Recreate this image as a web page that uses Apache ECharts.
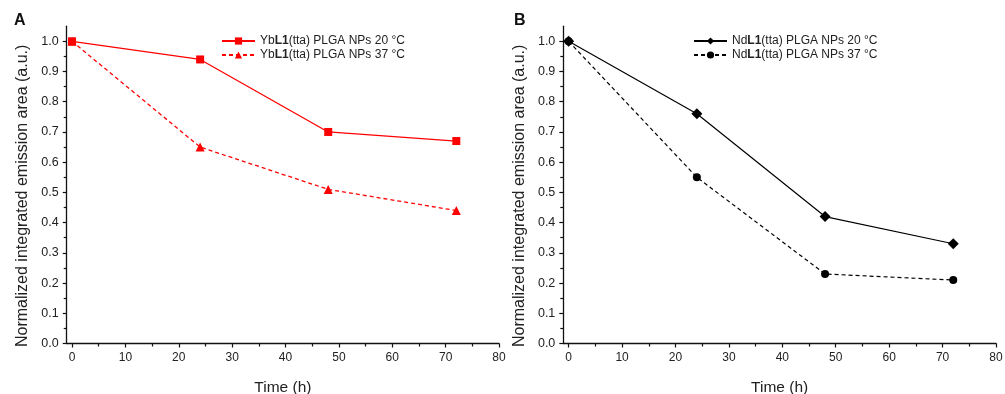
<!DOCTYPE html>
<html>
<head>
<meta charset="utf-8">
<script src="https://cdn.jsdelivr.net/npm/echarts@6/dist/echarts.min.js"></script>
<style>
html,body{margin:0;padding:0;background:#fff;}
#c{width:1005px;height:394px;}
</style>
</head>
<body>
<div id="c"></div>
<script>
// ---- data ----
var times = [0, 24, 48, 72];
var yb20 = [1.00, 0.94, 0.70, 0.67];
var yb37 = [1.00, 0.65, 0.51, 0.44];
var nd20 = [1.00, 0.76, 0.42, 0.33];
var nd37 = [1.00, 0.55, 0.23, 0.21];
var xTicks = [0, 10, 20, 30, 40, 50, 60, 70, 80];
var xMinorTicks = [5, 15, 25, 35, 45, 55, 65, 75];
var yTicks = [0, 0.1, 0.2, 0.3, 0.4, 0.5, 0.6, 0.7, 0.8, 0.9, 1.0];
var yMinorTicks = [0.05, 0.15, 0.25, 0.35, 0.45, 0.55, 0.65, 0.75, 0.85, 0.95];
var namesA = ['Yb|L1|(tta) PLGA NPs 20 °C', 'Yb|L1|(tta) PLGA NPs 37 °C'];
var namesB = ['Nd|L1|(tta) PLGA NPs 20 °C', 'Nd|L1|(tta) PLGA NPs 37 °C'];
var xTitle = 'Time (h)';
var yTitle = 'Normalized integrated emission area (a.u.)';

function pairs(xs, ys) { return xs.map(function (x, i) { return [x, ys[i]]; }); }

var FONT = 'Liberation Sans, Arial, sans-serif';
var axisColor = '#111';
var labelColor = '#222';

function xAxes(gi) {
  return [{
    type: 'value', gridIndex: gi, position: 'bottom', min: -1, max: 80,
    name: xTitle, nameLocation: 'middle', nameGap: 36,
    nameTextStyle: { fontSize: 15.5, color: labelColor, fontFamily: FONT },
    axisLine: { show: true, onZero: false, lineStyle: { color: axisColor, width: 1.3 } },
    axisTick: { show: true, length: 4, customValues: xTicks, lineStyle: { color: axisColor, width: 1.2 } },
    axisLabel: { customValues: xTicks, fontSize: 12, color: labelColor, fontFamily: FONT, margin: 8 },
    splitLine: { show: false }
  }, {
    type: 'value', gridIndex: gi, position: 'bottom', min: -1, max: 80,
    axisLine: { show: false, onZero: false },
    axisTick: { show: true, length: 3, customValues: xMinorTicks, lineStyle: { color: axisColor, width: 1.2 } },
    axisLabel: { show: false },
    splitLine: { show: false }
  }];
}
function yAxes(gi) {
  return [{
    type: 'value', gridIndex: gi, position: 'left', min: 0, max: 1.05,
    name: yTitle, nameLocation: 'middle', nameGap: 36,
    nameTextStyle: { fontSize: 16, color: labelColor, fontFamily: FONT, padding: [0, 22, 0, 0] },
    axisLine: { show: true, onZero: false, lineStyle: { color: axisColor, width: 1.3 } },
    axisTick: { show: true, length: 4, customValues: yTicks, lineStyle: { color: axisColor, width: 1.2 } },
    axisLabel: { customValues: yTicks, fontSize: 12.5, color: labelColor, fontFamily: FONT, margin: 8,
      formatter: function (v) { return v.toFixed(1); } },
    splitLine: { show: false }
  }, {
    type: 'value', gridIndex: gi, position: 'left', min: 0, max: 1.05,
    axisLine: { show: false, onZero: false },
    axisTick: { show: true, length: 3, customValues: yMinorTicks, lineStyle: { color: axisColor, width: 1.2 } },
    axisLabel: { show: false },
    splitLine: { show: false }
  }];
}

function legendFmt(name) {
  var p = name.split('|');
  return '{n|' + p[0] + '}{b|' + p[1] + '}{n|' + p[2] + '}';
}
function legend(left, names) {
  return {
    left: left, top: 35, padding: 0, orient: 'vertical', itemWidth: 33, itemHeight: 9, itemGap: 2,
    data: names, formatter: legendFmt, selectedMode: false,
    textStyle: {
      color: labelColor, fontSize: 12, fontFamily: FONT,
      rich: {
        n: { fontSize: 12, fontFamily: FONT, color: labelColor },
        b: { fontSize: 12, fontFamily: FONT, color: labelColor, fontWeight: 'bold' }
      }
    }
  };
}

var red = '#ff0000', black = '#000000';
var option = {
  animation: false,
  backgroundColor: '#fff',
  grid: [
    { left: 66.7, top: 26.2, width: 432.3, height: 317.3, outerBoundsMode: 'none', containLabel: false },
    { left: 563.3, top: 26.2, width: 432.7, height: 317.3, outerBoundsMode: 'none', containLabel: false }
  ],
  xAxis: xAxes(0).concat(xAxes(1)),
  yAxis: yAxes(0).concat(yAxes(1)),
  legend: [legend(221, namesA), legend(693, namesB)],
  graphic: [
    { type: 'text', left: 14, top: 13, style: { text: 'A', fontSize: 16, fontWeight: 'bold', fontFamily: FONT, fill: '#111' } },
    { type: 'text', left: 514, top: 13, style: { text: 'B', fontSize: 16, fontWeight: 'bold', fontFamily: FONT, fill: '#111' } }
  ],
  series: [
    { name: namesA[0], type: 'line', xAxisIndex: 0, yAxisIndex: 0, data: pairs(times, yb20),
      symbol: 'rect', symbolSize: 8, color: red, lineStyle: { color: red, width: 1.3 }, itemStyle: { color: red } },
    { name: namesA[1], type: 'line', xAxisIndex: 0, yAxisIndex: 0, data: pairs(times, yb37),
      symbol: 'triangle', symbolSize: 9, color: red, lineStyle: { color: red, width: 1.3, type: [4, 3] }, itemStyle: { color: red } },
    { name: namesB[0], type: 'line', xAxisIndex: 2, yAxisIndex: 2, data: pairs(times, nd20),
      symbol: 'diamond', symbolSize: 11, color: black, lineStyle: { color: black, width: 1.2 }, itemStyle: { color: black } },
    { name: namesB[1], type: 'line', xAxisIndex: 2, yAxisIndex: 2, data: pairs(times, nd37),
      symbol: 'circle', symbolSize: 8, color: black, lineStyle: { color: black, width: 1.2, type: [4, 3] }, itemStyle: { color: black } }
  ]
};
var chart = echarts.init(document.getElementById('c'), null, { renderer: 'canvas' });
chart.setOption(option);
</script>
</body>
</html>
